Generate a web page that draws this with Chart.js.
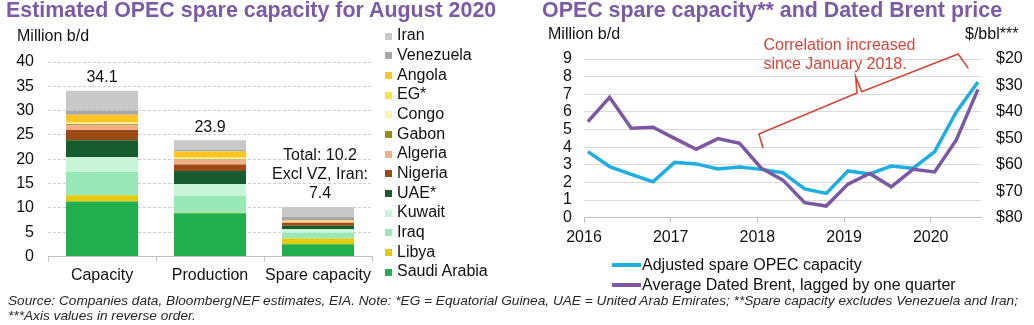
<!DOCTYPE html>
<html><head><meta charset="utf-8">
<script src="https://cdn.jsdelivr.net/npm/chart.js@4"></script>
<style>
html,body{margin:0;padding:0;background:#fff;width:1034px;height:325px;overflow:hidden;font-family:"Liberation Sans",Arial,sans-serif;color:#111;}
.abs{position:absolute;white-space:nowrap;line-height:1;}
.title{font-weight:bold;font-size:21.4px;color:#7b5aa6;}
.t16{font-size:16px;}
.foot{font-family:"Liberation Sans Narrow","Liberation Sans",Arial,sans-serif;font-style:italic;font-size:13px;color:#262626;transform-origin:0 0;}
canvas{position:absolute;left:0;top:0;}
</style></head><body>
<canvas id="c1" width="1034" height="325"></canvas>
<canvas id="c2" width="1034" height="325"></canvas>
<div class="abs title" style="left:6px;top:0px">Estimated OPEC spare capacity for August 2020</div>
<div class="abs title" style="left:542px;top:0px">OPEC spare capacity** and Dated Brent price</div>
<div class="abs t16" style="left:17px;top:28px">Million b/d</div>
<div class="abs t16" style="left:548px;top:26px">Million b/d</div>
<div class="abs t16" style="left:965px;top:26px">$/bbl***</div>
<div id="leg1"></div>
<div id="leg2"></div>
<div class="abs foot" id="f1" style="left:8px;top:294px">Source: Companies data, BloombergNEF estimates, EIA. Note: *EG = Equatorial Guinea, UAE = United Arab Emirates; **Spare capacity excludes Venezuela and Iran;</div>
<div class="abs foot" id="f2" style="left:8px;top:309px">***Axis values in reverse order.</div>
<script>
// ---------- Left chart data ----------
const barCategories = ['Capacity', 'Production', 'Spare capacity'];
const countries = ['Saudi Arabia','Libya','Iraq','Kuwait','UAE*','Nigeria','Algeria','Gabon','Congo','EG*','Angola','Venezuela','Iran'];
const countryColors = ['#22b04f','#e6c80c','#98e9b6','#c8f4d8','#165c2e','#9c4a16','#f2ae86','#9c8a14','#fff1b0','#ffe23c','#ffc522','#a8a8a8','#c9c9c9'];
const capacityValues   = [11.3, 1.3, 4.8, 3.0, 3.5, 2.1, 1.0, 0.2, 0.3, 0.15, 1.5, 0.9, 4.05];
const productionValues = [8.9, 0.1, 3.5, 2.4, 2.7, 1.3, 0.85, 0.2, 0.3, 0.1, 1.25, 0.3, 2.0];
const spareValues      = [2.5, 1.2, 1.2, 0.7, 0.7, 0.6, 0.25, 0.02, 0.03, 0.05, 0.15, 0.8, 2.0];
const barTotalLabels = [['34.1'], ['23.9'], ['Total: 10.2', 'Excl VZ, Iran:', '7.4']];
const leftTicks = [0, 5, 10, 15, 20, 25, 30, 35, 40];

// ---------- Right chart data ----------
const quarters = ['2016Q1','2016Q2','2016Q3','2016Q4','2017Q1','2017Q2','2017Q3','2017Q4','2018Q1','2018Q2','2018Q3','2018Q4','2019Q1','2019Q2','2019Q3','2019Q4','2020Q1','2020Q2','2020Q3'];
const spareCapacity = [3.75, 2.9, 2.46, 2.04, 3.14, 3.05, 2.76, 2.88, 2.74, 2.55, 1.63, 1.38, 2.65, 2.48, 2.93, 2.8, 3.75, 6.0, 7.7];
const brentLagged   = [43.7, 34.5, 46.2, 45.8, 50.0, 54.1, 50.1, 51.9, 61.3, 65.8, 74.3, 75.6, 67.3, 63.3, 68.3, 61.7, 62.7, 50.6, 31.5];
const yearTicks = [2016, 2017, 2018, 2019, 2020];
const spareTicks = [0, 1, 2, 3, 4, 5, 6, 7, 8, 9];
const priceTicks = [20, 30, 40, 50, 60, 70, 80];
const seriesNames = ['Adjusted spare OPEC capacity', 'Average Dated Brent, lagged by one quarter'];
const seriesColors = ['#1eaee2', '#7b57a4'];
const annotationText = ['Correlation increased', 'since January 2018.'];
// bracket in data coordinates (year, million b/d)
const bracketPts = [[2018.065,3.95],[2018.018,4.75],[2019.149,7.07],[2019.134,8.0],[2019.203,7.15],[2020.317,9.28],[2020.433,8.47]];

const FONT = '"Liberation Sans", Arial, sans-serif';
Chart.defaults.font.family = FONT;
Chart.defaults.color = '#111';

function qx(q) { const y = parseInt(q.slice(0,4)); const n = parseInt(q.slice(5)); return y + (n-1)*0.25 + 0.045; }

// ---------- Left chart ----------
const datasets1 = countries.map((c, i) => ({
  label: c,
  data: [capacityValues[i], productionValues[i], spareValues[i]],
  backgroundColor: countryColors[i],
  borderWidth: 0,
  barPercentage: 0.667,
  categoryPercentage: 1
}));

const totalsPlugin = {
  id: 'totals',
  afterDatasetsDraw(chart) {
    const ctx = chart.ctx, ys = chart.scales.y, xs = chart.scales.x;
    ctx.save();
    ctx.font = '16px ' + FONT;
    ctx.fillStyle = '#111';
    ctx.textAlign = 'center';
    ctx.textBaseline = 'middle';
    barCategories.forEach((cat, ci) => {
      let total = 0;
      datasets1.forEach(d => total += d.data[ci]);
      const top = ys.getPixelForValue(total);
      const cx = xs.getPixelForValue(ci) + (barTotalLabels[ci].length > 1 ? 2 : 0);
      const lines = barTotalLabels[ci];
      lines.forEach((t, k) => {
        ctx.fillText(t, cx, top - 13 - (lines.length - 1 - k) * 19);
      });
    });
    ctx.restore();
  }
};

new Chart(document.getElementById('c1'), {
  type: 'bar',
  data: { labels: barCategories, datasets: datasets1 },
  options: {
    responsive: false, animation: false,
    layout: { padding: { left: 8, right: 662, top: 62, bottom: 28.5 } },
    plugins: { legend: { display: false }, tooltip: { enabled: false } },
    scales: {
      x: {
        stacked: true,
        grid: { display: true, drawOnChartArea: false, drawTicks: true, tickLength: 5, color: '#bfbfbf', offset: true },
        border: { display: true, color: '#bfbfbf' },
        ticks: { font: { size: 16 }, color: '#111', padding: 4, maxRotation: 0, autoSkip: false },
        afterFit(s) { s.height = 40; }
      },
      y: {
        stacked: true, min: 0, max: 40,
        afterBuildTicks(s) { s.ticks = leftTicks.map(v => ({ value: v })); },
        ticks: { font: { size: 16 }, color: '#111', padding: 14, autoSkip: false },
        grid: { color: '#cfcfcf', drawTicks: false },
        border: { display: false, dash: [3, 2] },
        afterFit(s) { s.width = 40; }
      }
    }
  },
  plugins: [totalsPlugin]
});

// legend left (HTML, generated from data)
(function(){
  const leg = document.getElementById('leg1');
  const order = countries.map((c,i)=>i).reverse();
  order.forEach((idx, k) => {
    const cy = 36 + k * 19.67;
    const box = document.createElement('div');
    box.style.cssText = `position:absolute;left:385px;top:${cy-3.5}px;width:7px;height:7px;background:${countryColors[idx]}`;
    leg.appendChild(box);
    const t = document.createElement('div');
    t.className = 'abs t16';
    t.style.left = '397px';
    t.style.top = (cy + 4.7 - 13.5) + 'px';
    t.textContent = countries[idx];
    leg.appendChild(t);
  });
})();

// ---------- Right chart ----------
const annotationPlugin = {
  id: 'annot',
  afterDatasetsDraw(chart) {
    const ctx = chart.ctx, xs = chart.scales.x, ys = chart.scales.y;
    ctx.save();
    ctx.strokeStyle = '#d5473a';
    ctx.lineWidth = 1.6;
    ctx.beginPath();
    bracketPts.forEach((p, i) => {
      const px = xs.getPixelForValue(p[0]), py = ys.getPixelForValue(p[1]);
      if (i === 0) ctx.moveTo(px, py); else ctx.lineTo(px, py);
    });
    ctx.stroke();
    ctx.fillStyle = '#d5473a';
    ctx.font = '16px ' + FONT;
    ctx.textAlign = 'left';
    ctx.textBaseline = 'alphabetic';
    const tx = xs.getPixelForValue(2018.07);
    ctx.fillText(annotationText[0], tx, 50);
    ctx.fillText(annotationText[1], tx, 69);
    ctx.restore();
  }
};

new Chart(document.getElementById('c2'), {
  type: 'line',
  data: {
    datasets: [
      { label: seriesNames[0], data: quarters.map((q,i)=>({x: qx(q), y: spareCapacity[i]})), borderColor: seriesColors[0], borderWidth: 3.5, pointRadius: 0, yAxisID: 'y', order: 1, tension: 0 },
      { label: seriesNames[1], data: quarters.map((q,i)=>({x: qx(q), y: brentLagged[i]})), borderColor: seriesColors[1], borderWidth: 3.5, pointRadius: 0, yAxisID: 'y2', order: 0, tension: 0 }
    ]
  },
  options: {
    responsive: false, animation: false,
    layout: { padding: { left: 534, right: 8, top: 59, bottom: 77.3 } },
    plugins: { legend: { display: false }, tooltip: { enabled: false } },
    scales: {
      x: {
        type: 'linear', min: 2016, max: 2020.58,
        afterBuildTicks(s) { s.ticks = yearTicks.map(v => ({ value: v })); },
        ticks: { font: { size: 16 }, color: '#111', padding: 5, callback: v => String(v), maxRotation: 0, autoSkip: false },
        grid: { drawOnChartArea: false, tickLength: 5, color: '#bfbfbf' },
        border: { display: true, color: '#bfbfbf' },
        afterFit(s) { s.height = 30; }
      },
      y: {
        position: 'left', min: 0, max: 9,
        afterBuildTicks(s) { s.ticks = spareTicks.map(v => ({ value: v })); },
        ticks: { font: { size: 16 }, color: '#111', padding: 12, autoSkip: false },
        grid: { color: '#d9d9d9', drawTicks: false },
        border: { display: false },
        afterFit(s) { s.width = 50; }
      },
      y2: {
        position: 'right', reverse: true, min: 20, max: 80,
        afterBuildTicks(s) { s.ticks = priceTicks.map(v => ({ value: v })); },
        ticks: { font: { size: 16 }, color: '#111', padding: 15, autoSkip: false, callback: v => '$' + v },
        grid: { drawOnChartArea: false, drawTicks: false },
        border: { display: false },
        afterFit(s) { s.width = 45; }
      }
    }
  },
  plugins: [annotationPlugin]
});

// legend right (HTML)
(function(){
  const leg = document.getElementById('leg2');
  seriesNames.forEach((n, i) => {
    const cy = 265 + i * 20;
    const ln = document.createElement('div');
    ln.style.cssText = `position:absolute;left:612px;top:${cy-2}px;width:29px;height:4px;background:${seriesColors[i]}`;
    leg.appendChild(ln);
    const t = document.createElement('div');
    t.className = 'abs t16';
    t.style.left = '642px';
    t.style.top = (cy + 5 - 13.5) + 'px';
    t.textContent = n;
    leg.appendChild(t);
  });
})();

// footer fit
(function(){
  const f1 = document.getElementById('f1'), f2 = document.getElementById('f2');
  const w = f1.getBoundingClientRect().width;
  const s = 1010 / w;
  f1.style.transform = `scaleX(${s})`;
  f2.style.transform = `scaleX(${s})`;
})();
</script>
</body></html>
